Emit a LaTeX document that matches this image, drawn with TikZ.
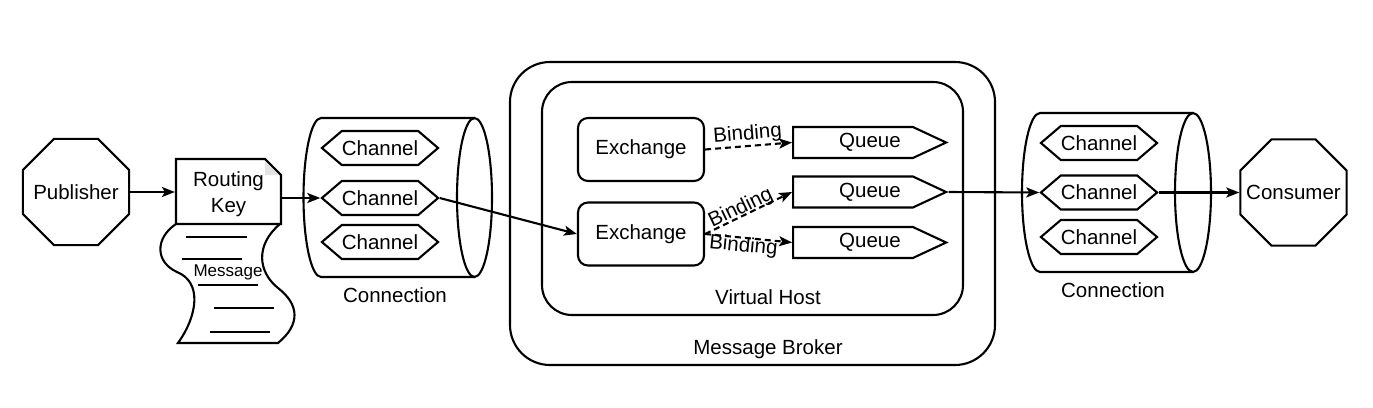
\documentclass[tikz,border=0pt]{standalone}
\usepackage{fontspec}
\setmainfont{Liberation Sans}
\usetikzlibrary{shapes.geometric,shapes.symbols,arrows.meta}
\begin{document}
\begin{tikzpicture}[x=1pt,y=-1pt,line width=2.1pt,
  every node/.style={font=\fontsize{20.5}{24}\selectfont},
  octo/.style={draw, regular polygon, regular polygon sides=8, minimum size=115, inner sep=0},
  chan/.style={draw, signal, signal to=west and east, signal pointer angle=81, minimum width=116, minimum height=34, inner sep=0},
  queue/.style={draw, signal, signal to=east, signal pointer angle=50, minimum width=153, minimum height=31, inner sep=0},
  exch/.style={draw, rounded corners=10, minimum width=126, minimum height=63},
  arr/.style={-{Stealth[length=13pt,width=10pt,inset=3pt]}},
  dasharr/.style={arr, dash pattern=on 6pt off 4pt},
  lbl/.style={inner sep=1pt, sloped},
  thinline/.style={line width=1.9pt}]
\useasboundingbox (0,0) rectangle (1373,407);

% Publisher
\node[octo] (pub) at (76,192) {};
\node (pubt) at (pub) {Publisher};

% Routing key document
\draw (176,159) -- (265,159) -- (281,175) -- (281,224) -- (176,224) -- cycle;
\fill[gray!22] (265,160) -- (265,175) -- (280,175) -- cycle;
\draw (265,159) -- (281,175);
\node[inner sep=0, minimum width=105, minimum height=65, align=center, font=\fontsize{20.5}{26}\selectfont] (rk) at (228.5,194) {Routing\\Key};

% Message tape
\draw (176,224) .. controls (155,238) and (155,262) .. (177,272)
  .. controls (202,282) and (198,315) .. (178,343) -- (278,343)
  .. controls (300,325) and (300,305) .. (278,288)
  .. controls (258,272) and (255,245) .. (280,224);
\draw[thinline] (186,237) -- (247,237);
\draw[thinline] (182,259) -- (242,259);
\draw[thinline] (198,285) -- (258,285);
\draw[thinline] (214,308) -- (274,308);
\draw[thinline] (210,332) -- (270,332);
\node[font=\fontsize{17}{20}\selectfont] (msg) at (228,272) {Message};

% Connection 1
\draw (474.5,118) -- (321,118) arc[start angle=-90, end angle=-270, x radius=17.5, y radius=79.5] -- (474.5,277);
\draw (474.5,197.5) ellipse [x radius=17.5, y radius=79.5];
\node[chan] (c1t) at (380,148) {Channel};
\node[chan] (c1m) at (380,198) {Channel};
\node[chan] (c1b) at (380,242) {Channel};
\node (conn1) at (395,295) {Connection};

% Broker and virtual host
\node[draw, rounded corners=40, minimum width=485, minimum height=303] (broker) at (752.5,213.5) {};
\node[draw, rounded corners=30, minimum width=421, minimum height=233] (vhost) at (752.5,198.5) {};
\node (vhostl) at (768,297) {Virtual Host};
\node (brokerl) at (768,349) {Message Broker};

\node[exch] (ex1) at (641,149.5) {Exchange};
\node[exch] (ex2) at (641,234) {Exchange};
\node[queue] (q1) at (853,142.5) {};
\node[queue] (q2) at (853,192) {};
\node[queue] (q3) at (853,242.5) {};
\node (q1t) at (870,142.5) {Queue};
\node (q2t) at (870,192) {Queue};
\node (q3t) at (870,242.5) {Queue};

% Connection 2
\draw (1193,113) -- (1040,113) arc[start angle=-90, end angle=-270, x radius=18, y radius=79.5] -- (1193,272);
\draw (1193,192.5) ellipse [x radius=18, y radius=79.5];
\node[chan] (c2t) at (1099,143) {Channel};
\node[chan] (c2m) at (1099,192.5) {Channel};
\node[chan] (c2b) at (1099,237) {Channel};
\node (conn2) at (1113,290) {Connection};

% Consumer
\node[octo] (con) at (1293.5,192.5) {};
\node (cont) at (con) {Consumer};

% Connectors
\draw[arr] (pub.east) -- (pub.east -| rk.west);
\draw[arr] (c1m.west -| rk.east) -- (c1m.west);
\draw[arr] (c1m.east) -- (ex2.west);
\draw[dasharr] (ex1.east) -- node[lbl, above] {Binding} (q1.west);
\draw[dasharr] (ex2.east) -- node[lbl, above=-3pt, inner sep=0pt, pos=0.45] {Binding} (q2.west);
\draw[dasharr] (ex2.east) -- node[lbl, below=-2pt, inner sep=0pt, pos=0.45] {Binding} (q3.west);
\draw[arr] (q2.east) -- (c2m.west);
\draw[arr] (c2m.east) -- (con.west);
\end{tikzpicture}
\end{document}
